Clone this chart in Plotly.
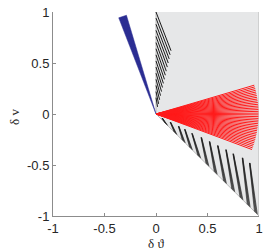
import plotly.graph_objects as go
import math

# ---------------- data ----------------
tick_vals = [-1, -0.5, 0, 0.5, 1]
tick_text = ["-1", "-0.5", "0", "0.5", "1"]

# grey admissible region (polygon vertices)
region_x = [0, 0, 1, 1, 0]
region_y = [0, 1, 1, -1, 0]

# blue wedge: angles (deg) of its two edges, radius 1
blue_angles = [106.5, 111.0]
blue_radius = 1.01

# red fan: end angles (deg) of rays from the origin, radius ~1
red_angles = [-20.5, -19.5, -18.5, -17.5, -16.5, -15.5, -14.5, -13.5, -12.5, -11.5,
              -10.5, -9.5, -8.5, -7.5, -6.5, -5.5, -4.5, -3.5, -2.5, -1.5,
              -0.5, 0.5, 1.5, 2.5, 3.5, 4.5, 5.5, 6.5, 7.5, 8.5,
              9.5, 10.5, 11.5, 12.5, 13.5, 14.5, 15.5, 16.5]
red_radius = 0.995

# upper black trajectories: start on dtheta=0, end points
up_start_y = [1.00, 0.94, 0.88, 0.82, 0.76, 0.70, 0.64, 0.58, 0.52, 0.46, 0.40, 0.34, 0.28, 0.22, 0.16]
up_end_x = [0.146, 0.137, 0.128, 0.119, 0.110, 0.100, 0.091, 0.082, 0.072, 0.063, 0.054, 0.044, 0.035, 0.025, 0.015]
up_end_y = [0.62, 0.58, 0.54, 0.50, 0.46, 0.42, 0.38, 0.34, 0.30, 0.26, 0.22, 0.18, 0.14, 0.10, 0.07]

# lower black bundles: top point and bottom point on the diagonal
low_top_x = [0.06, 0.14, 0.22, 0.28, 0.35, 0.44, 0.52, 0.60, 0.68, 0.75, 0.84, 0.91]
low_top_y = [-0.04, -0.08, -0.12, -0.15, -0.19, -0.23, -0.27, -0.31, -0.35, -0.39, -0.43, -0.48]
low_bot_x = [0.10, 0.19, 0.27, 0.34, 0.42, 0.50, 0.58, 0.67, 0.75, 0.83, 0.90, 0.97]
bundle_spread = [-0.014, -0.007, 0.0, 0.007, 0.014]

# ---------------- figure ----------------
fig = go.Figure()

fig.add_trace(go.Scatter(x=region_x, y=region_y, fill="toself", fillcolor="#e6e7e8",
                         mode="lines", line=dict(width=0), hoverinfo="skip"))
# region edges
fig.add_trace(go.Scatter(x=[1, 1, None, 0, 0, None, 0, 1], y=[1, -1, None, 0, 1, None, 0, -1],
                         mode="lines", line=dict(color="#b8b8b8", width=1), hoverinfo="skip"))

# blue wedge
bx = [0] + [blue_radius * math.cos(math.radians(a)) for a in blue_angles] + [0]
by = [0] + [blue_radius * math.sin(math.radians(a)) for a in blue_angles] + [0]
fig.add_trace(go.Scatter(x=bx, y=by, fill="toself", fillcolor="#2b2d92", mode="lines",
                         line=dict(color="#2b2d92", width=0.5), hoverinfo="skip"))

# upper black trajectories
ux, uy = [], []
for sy, ex, ey in zip(up_start_y, up_end_x, up_end_y):
    ux += [0, ex, None]
    uy += [sy, ey, None]
fig.add_trace(go.Scatter(x=ux, y=uy, mode="lines", line=dict(color="#1a1a1a", width=1),
                         hoverinfo="skip"))

# lower black bundles
lx, ly = [], []
for tx, ty, bxx in zip(low_top_x, low_top_y, low_bot_x):
    for s in bundle_spread:
        b = bxx + s
        lx += [tx + s * 0.2, b, None]
        ly += [ty, -b, None]
fig.add_trace(go.Scatter(x=lx, y=ly, mode="lines", line=dict(color="#1a1a1a", width=0.6),
                         hoverinfo="skip"))

# red fan
rx, ry = [], []
for a in red_angles:
    rx += [0, red_radius * math.cos(math.radians(a)), None]
    ry += [0, red_radius * math.sin(math.radians(a)), None]
fig.add_trace(go.Scatter(x=rx, y=ry, mode="lines", line=dict(color="#ff1a1a", width=1),
                         hoverinfo="skip"))

axis_common = dict(range=[-1, 1], tickvals=tick_vals, ticktext=tick_text, showgrid=False,
                   zeroline=False, showline=True, linecolor="#8c8c8c", linewidth=1,
                   ticks="inside", ticklen=3, tickcolor="#8c8c8c", automargin=False,
                   tickfont=dict(family="Liberation Sans, Arial, sans-serif", size=13, color="#262626"))

fig.update_layout(
    width=266, height=252,
    margin=dict(l=53, r=7, t=12, b=36, autoexpand=False),
    paper_bgcolor="white", plot_bgcolor="white",
    showlegend=False,
    xaxis=dict(**axis_common),
    yaxis=dict(**axis_common),
    annotations=[
        dict(text="δ ϑ", xref="paper", yref="paper", x=0.5, y=-0.137, showarrow=False,
             xanchor="center", yanchor="middle",
             font=dict(family="Liberation Serif, DejaVu Serif, serif", size=13, color="#262626")),
        dict(text="δ v", xref="paper", yref="paper", x=-0.19, y=0.485, showarrow=False,
             textangle=-90, xanchor="center", yanchor="middle",
             font=dict(family="Liberation Serif, DejaVu Serif, serif", size=13, color="#262626")),
    ],
)

fig.write_html("out.html", config={"displayModeBar": False},
               post_script="document.body.style.margin='0px';document.body.style.overflow='hidden';")
